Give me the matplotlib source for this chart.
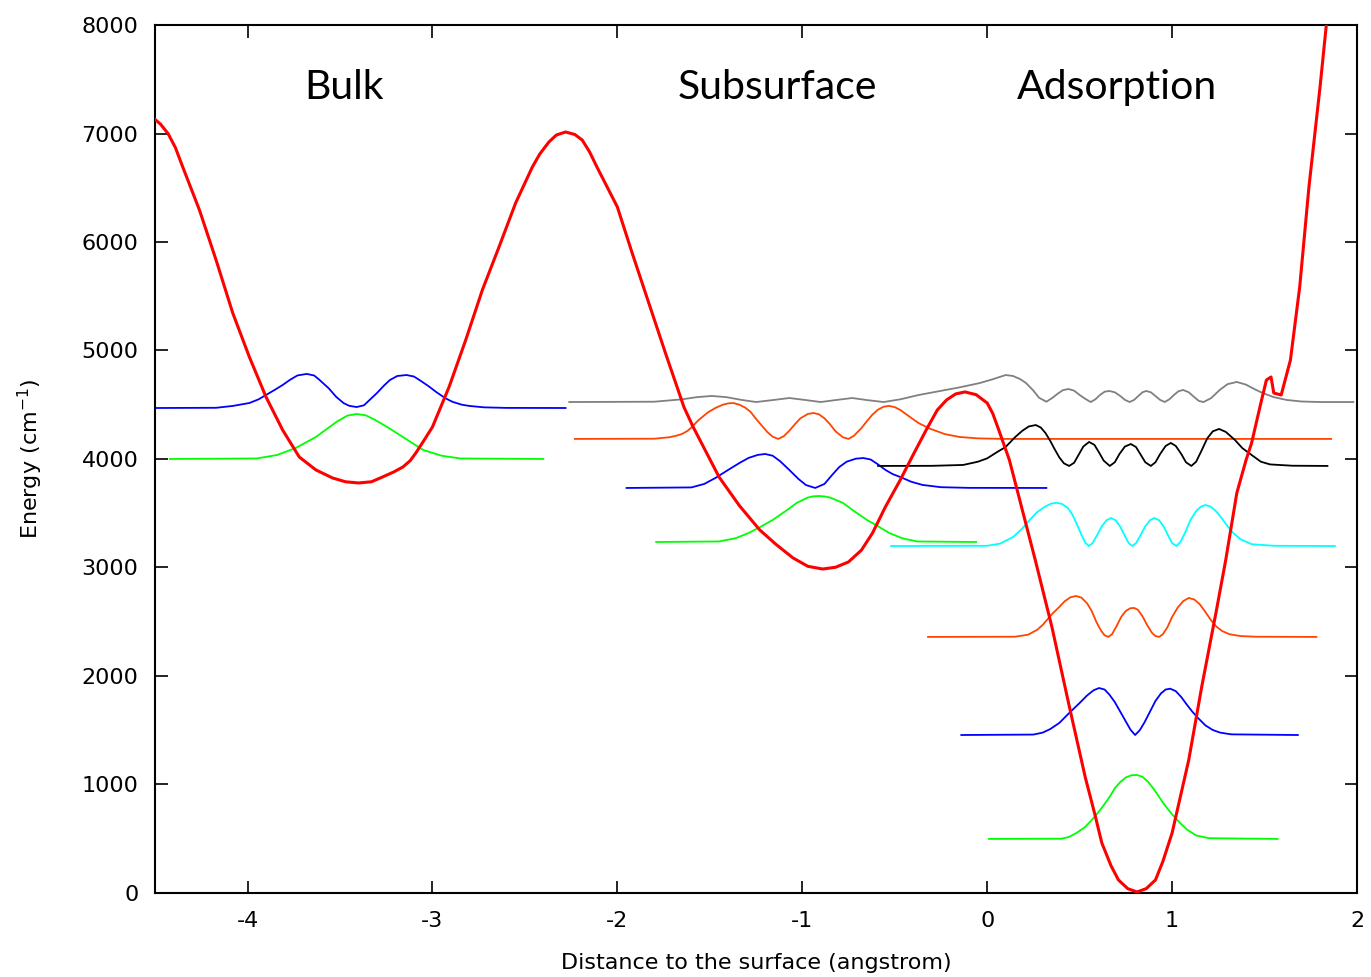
import matplotlib
matplotlib.use("Agg")
import matplotlib.pyplot as plt

# potential energy curve
pot_x = [-4.50, -4.47, -4.43, -4.39, -4.35, -4.26, -4.17, -4.08, -3.99, -3.90,
         -3.81, -3.72, -3.63, -3.54, -3.47, -3.40, -3.33, -3.27, -3.21, -3.16,
         -3.12, -3.09, -3.05, -3.00, -2.91, -2.82, -2.73, -2.64, -2.55, -2.46,
         -2.42, -2.37, -2.33, -2.28, -2.23, -2.19, -2.15, -2.11, -2.00, -1.92,
         -1.83, -1.74, -1.64, -1.59, -1.45, -1.34, -1.23, -1.14, -1.05, -0.97,
         -0.89, -0.82, -0.75, -0.68, -0.62, -0.55, -0.47, -0.40, -0.33, -0.27,
         -0.22, -0.17, -0.12, -0.06, 0.00, 0.03, 0.06, 0.12, 0.19, 0.26,
         0.35, 0.44, 0.53, 0.58, 0.62, 0.67, 0.71, 0.76, 0.81, 0.86,
         0.91, 0.95, 1.00, 1.09, 1.16, 1.24, 1.29, 1.35, 1.40, 1.43,
         1.48, 1.51, 1.535, 1.55, 1.59, 1.64, 1.69, 1.74, 1.80, 1.84]
pot_y = [7130, 7085, 7000, 6870, 6690, 6295, 5834, 5346, 4940, 4572,
         4267, 4018, 3899, 3825, 3790, 3779, 3790, 3834, 3880, 3926,
         3985, 4055, 4160, 4295, 4664, 5097, 5558, 5954, 6360, 6690,
         6810, 6922, 6986, 7014, 6991, 6940, 6830, 6690, 6323, 5899,
         5438, 4977, 4479, 4295, 3834, 3570, 3346, 3210, 3088, 3011,
         2986, 3002, 3051, 3160, 3318, 3560, 3807, 4040, 4267, 4451,
         4544, 4600, 4618, 4593, 4516, 4420, 4280, 3991, 3530, 3069,
         2452, 1751, 1069, 740, 461, 250, 120, 40, 9, 40,
         120, 290, 553, 1226, 1899, 2608, 3069, 3687, 3991, 4148,
         4516, 4728, 4756, 4608, 4590, 4913, 5585, 6507, 7429, 8100]

# bulk wavefunctions
bulk_green_x = [-4.42, -3.95, -3.84, -3.74, -3.63, -3.52, -3.46, -3.41, -3.36, -3.31,
                -3.24, -3.16, -3.05, -2.95, -2.85, -2.40]
bulk_green_y = [4000, 4005, 4037, 4101, 4203, 4341, 4400, 4415, 4402, 4360,
                4290, 4203, 4083, 4030, 4005, 4000]
bulk_blue_x = [-4.49, -4.17, -4.08, -3.99, -3.94, -3.90, -3.85, -3.81, -3.77, -3.73,
               -3.68, -3.64, -3.61, -3.56, -3.52, -3.48, -3.45, -3.41, -3.37, -3.33,
               -3.30, -3.26, -3.23, -3.19, -3.14, -3.10, -3.07, -3.02, -2.98, -2.93,
               -2.89, -2.84, -2.80, -2.72, -2.60, -2.28]
bulk_blue_y = [4470, 4472, 4489, 4516, 4550, 4590, 4640, 4682, 4730, 4770,
               4784, 4770, 4728, 4650, 4572, 4515, 4490, 4479, 4495, 4560,
               4608, 4680, 4728, 4765, 4774, 4760, 4728, 4670, 4618, 4560,
               4526, 4500, 4489, 4476, 4471, 4470]

# subsurface wavefunctions
sub_green_x = [-1.79, -1.45, -1.36, -1.29, -1.22, -1.16, -1.09, -1.03, -0.97, -0.94,
               -0.91, -0.88, -0.85, -0.78, -0.72, -0.65, -0.59, -0.53, -0.46, -0.38,
               -0.06]
sub_green_y = [3235, 3240, 3270, 3318, 3380, 3438, 3520, 3595, 3645, 3656,
               3659, 3655, 3645, 3595, 3520, 3438, 3380, 3318, 3270, 3240,
               3235]
sub_blue_x = [-1.95, -1.60, -1.53, -1.47, -1.40, -1.34, -1.29, -1.24, -1.20, -1.16,
              -1.12, -1.07, -1.02, -0.98, -0.93, -0.88, -0.84, -0.80, -0.76, -0.71,
              -0.67, -0.63, -0.59, -0.55, -0.51, -0.47, -0.41, -0.35, -0.25, -0.10,
              0.32]
sub_blue_y = [3733, 3738, 3770, 3825, 3900, 3963, 4010, 4038, 4046, 4030,
              3980, 3899, 3815, 3760, 3733, 3770, 3850, 3926, 3975, 4003,
              4009, 3995, 3950, 3899, 3860, 3834, 3790, 3761, 3740, 3734,
              3733]
sub_orange_x = [-2.23, -1.80, -1.72, -1.68, -1.65, -1.62, -1.60, -1.56, -1.51, -1.47,
                -1.43, -1.40, -1.37, -1.34, -1.31, -1.28, -1.25, -1.22, -1.19, -1.16,
                -1.13, -1.10, -1.07, -1.04, -1.01, -0.97, -0.94, -0.91, -0.88, -0.85,
                -0.82, -0.78, -0.75, -0.72, -0.68, -0.65, -0.62, -0.59, -0.56, -0.53,
                -0.50, -0.47, -0.42, -0.37, -0.31, -0.23, -0.15, -0.05, 0.10, 1.86]
sub_orange_y = [4185, 4187, 4200, 4215, 4231, 4260, 4290, 4360, 4430, 4470,
                4500, 4513, 4515, 4500, 4475, 4435, 4370, 4310, 4250, 4205,
                4185, 4210, 4260, 4320, 4375, 4415, 4424, 4412, 4375, 4320,
                4255, 4200, 4185, 4215, 4285, 4350, 4410, 4455, 4482, 4489,
                4478, 4452, 4390, 4330, 4280, 4230, 4203, 4190, 4185, 4185]
gray_x = [-2.26, -1.80, -1.65, -1.57, -1.49, -1.41, -1.33, -1.25, -1.16, -1.07,
          -0.98, -0.90, -0.82, -0.73, -0.65, -0.56, -0.47, -0.37, -0.26, -0.15,
          -0.04, 0.03, 0.10, 0.14, 0.18, 0.21, 0.25, 0.28, 0.32, 0.35,
          0.38, 0.41, 0.44, 0.47, 0.50, 0.53, 0.56, 0.585, 0.61, 0.635,
          0.66, 0.69, 0.72, 0.745, 0.77, 0.795, 0.82, 0.84, 0.86, 0.885,
          0.91, 0.935, 0.96, 0.985, 1.01, 1.035, 1.06, 1.09, 1.12, 1.145,
          1.17, 1.21, 1.26, 1.30, 1.35, 1.40, 1.45, 1.49, 1.55, 1.62,
          1.70, 1.80, 1.98]
gray_y = [4525, 4528, 4550, 4570, 4581, 4570, 4545, 4525, 4543, 4562,
          4543, 4525, 4543, 4562, 4543, 4525, 4550, 4590, 4625, 4660,
          4700, 4735, 4774, 4765, 4735, 4700, 4630, 4565, 4528, 4560,
          4600, 4635, 4645, 4630, 4590, 4555, 4525, 4550, 4590, 4620,
          4627, 4615, 4580, 4545, 4525, 4545, 4585, 4615, 4627, 4615,
          4580, 4545, 4525, 4550, 4590, 4625, 4636, 4615, 4570, 4535,
          4525, 4560, 4640, 4690, 4710, 4685, 4640, 4608, 4570, 4544,
          4530, 4525, 4525]

# adsorption wavefunctions
ads_green_x = [0.01, 0.40, 0.44, 0.48, 0.53, 0.58, 0.62, 0.66, 0.69, 0.72,
               0.75, 0.78, 0.81, 0.84, 0.87, 0.90, 0.93, 0.96, 1.00, 1.04,
               1.08, 1.13, 1.20, 1.57]
ads_green_y = [498, 500, 515, 550, 608, 700, 785, 880, 965, 1023,
               1065, 1085, 1088, 1070, 1025, 960, 885, 810, 725, 650,
               585, 530, 505, 498]
ads_blue_x = [-0.14, 0.25, 0.30, 0.34, 0.39, 0.45, 0.50, 0.54, 0.575, 0.605,
              0.635, 0.66, 0.69, 0.72, 0.75, 0.775, 0.80, 0.825, 0.85, 0.88,
              0.91, 0.94, 0.965, 0.99, 1.02, 1.05, 1.08, 1.11, 1.14, 1.18,
              1.22, 1.26, 1.32, 1.68]
ads_blue_y = [1456, 1460, 1478, 1510, 1567, 1670, 1751, 1820, 1868, 1889,
              1875, 1830, 1760, 1670, 1580, 1505, 1456, 1500, 1570, 1670,
              1770, 1840, 1875, 1883, 1860, 1805, 1735, 1670, 1613, 1545,
              1502, 1478, 1462, 1456]
ads_orange_x = [-0.32, 0.15, 0.22, 0.27, 0.30, 0.35, 0.39, 0.42, 0.45, 0.48,
                0.51, 0.54, 0.565, 0.59, 0.615, 0.635, 0.655, 0.675, 0.70, 0.725,
                0.75, 0.775, 0.795, 0.815, 0.84, 0.865, 0.89, 0.91, 0.93, 0.95,
                0.975, 1.00, 1.03, 1.06, 1.09, 1.12, 1.15, 1.18, 1.21, 1.24,
                1.27, 1.31, 1.37, 1.45, 1.78]
ads_orange_y = [2360, 2362, 2380, 2425, 2470, 2570, 2636, 2690, 2725, 2737,
                2722, 2670, 2600, 2500, 2420, 2375, 2360, 2385, 2460, 2545,
                2600, 2625, 2627, 2610, 2550, 2470, 2400, 2368, 2360, 2385,
                2450, 2544, 2630, 2690, 2719, 2705, 2660, 2590, 2515, 2455,
                2415, 2385, 2368, 2362, 2360]
ads_cyan_x = [-0.52, 0.00, 0.07, 0.14, 0.19, 0.23, 0.27, 0.31, 0.345, 0.375,
              0.405, 0.435, 0.46, 0.485, 0.51, 0.53, 0.55, 0.57, 0.595, 0.62,
              0.645, 0.67, 0.695, 0.72, 0.745, 0.765, 0.785, 0.805, 0.83, 0.855,
              0.88, 0.903, 0.93, 0.955, 0.98, 1.00, 1.023, 1.045, 1.07, 1.10,
              1.13, 1.155, 1.18, 1.21, 1.24, 1.27, 1.30, 1.33, 1.37, 1.43,
              1.55, 1.88]
ads_cyan_y = [3198, 3200, 3220, 3281, 3360, 3438, 3510, 3558, 3588, 3597,
              3585, 3550, 3490, 3400, 3300, 3230, 3198, 3225, 3300, 3380,
              3435, 3456, 3435, 3375, 3290, 3225, 3198, 3225, 3300, 3380,
              3435, 3456, 3435, 3375, 3290, 3225, 3198, 3235, 3320, 3440,
              3520, 3560, 3576, 3560, 3515, 3450, 3380, 3320, 3260, 3215,
              3200, 3198]
ads_black_x = [-0.59, -0.30, -0.13, -0.05, 0.00, 0.05, 0.10, 0.15, 0.19, 0.225,
               0.263, 0.29, 0.315, 0.34, 0.365, 0.39, 0.415, 0.443, 0.47, 0.495,
               0.52, 0.551, 0.58, 0.605, 0.63, 0.663, 0.69, 0.715, 0.745, 0.777,
               0.805, 0.83, 0.855, 0.885, 0.91, 0.935, 0.965, 0.993, 1.02, 1.05,
               1.075, 1.104, 1.13, 1.16, 1.19, 1.22, 1.254, 1.29, 1.34, 1.38,
               1.43, 1.48, 1.53, 1.65, 1.84]
ads_black_y = [3936, 3937, 3945, 3975, 4006, 4060, 4111, 4200, 4260, 4300,
               4313, 4290, 4240, 4170, 4090, 4015, 3960, 3936, 3965, 4040,
               4115, 4157, 4130, 4060, 3985, 3936, 3970, 4045, 4115, 4138,
               4110, 4040, 3970, 3936, 3970, 4045, 4120, 4148, 4120, 4045,
               3970, 3936, 3975, 4080, 4190, 4255, 4277, 4250, 4175, 4100,
               4037, 3975, 3950, 3938, 3936]

region_names = ["Bulk", "Subsurface", "Adsorption"]
region_x = [-3.48, -1.135, 0.703]
region_y = 7420

x_ticks = [-4, -3, -2, -1, 0, 1, 2]
y_ticks = [0, 1000, 2000, 3000, 4000, 5000, 6000, 7000, 8000]

plt.rcParams['font.family'] = ['DejaVu Sans']
plt.rcParams['axes.unicode_minus'] = False

fig = plt.figure(figsize=(13.71, 9.77), dpi=100)
ax = fig.add_axes([0.1131, 0.086, 0.8767, 0.8884])

lw = 1.3
ax.plot(bulk_green_x, bulk_green_y, color="#00ff00", lw=lw)
ax.plot(bulk_blue_x, bulk_blue_y, color="#0000ff", lw=lw)
ax.plot(sub_green_x, sub_green_y, color="#00ff00", lw=lw)
ax.plot(sub_blue_x, sub_blue_y, color="#0000ff", lw=lw)
ax.plot(sub_orange_x, sub_orange_y, color="#ff4500", lw=lw)
ax.plot(gray_x, gray_y, color="#808080", lw=lw)
ax.plot(ads_green_x, ads_green_y, color="#00ff00", lw=lw)
ax.plot(ads_blue_x, ads_blue_y, color="#0000ff", lw=lw)
ax.plot(ads_orange_x, ads_orange_y, color="#ff4500", lw=lw)
ax.plot(ads_cyan_x, ads_cyan_y, color="#00ffff", lw=lw)
ax.plot(ads_black_x, ads_black_y, color="black", lw=lw)
ax.plot(pot_x, pot_y, color="#ff0000", lw=2.2, zorder=5)

for name, xc in zip(region_names, region_x):
    ax.text(xc, region_y, name, ha="center", va="center", fontsize=29.5,
            family=["Lato", "DejaVu Sans"])

ax.set_xlim(-4.5, 2)
ax.set_ylim(0, 8000)
ax.set_xticks(x_ticks)
ax.set_yticks(y_ticks)
ax.tick_params(direction="in", length=9, width=1.2, top=True, right=True,
               labelsize=16)
ax.tick_params(axis="x", pad=13)
ax.tick_params(axis="y", pad=12)
for s in ax.spines.values():
    s.set_linewidth(1.5)

ax.set_xlabel("Distance to the surface (angstrom)", fontsize=16, labelpad=16)
ax.set_ylabel("Energy (cm$^{-1}$)", fontsize=16, labelpad=26)

fig.savefig("out.png", dpi=100)
